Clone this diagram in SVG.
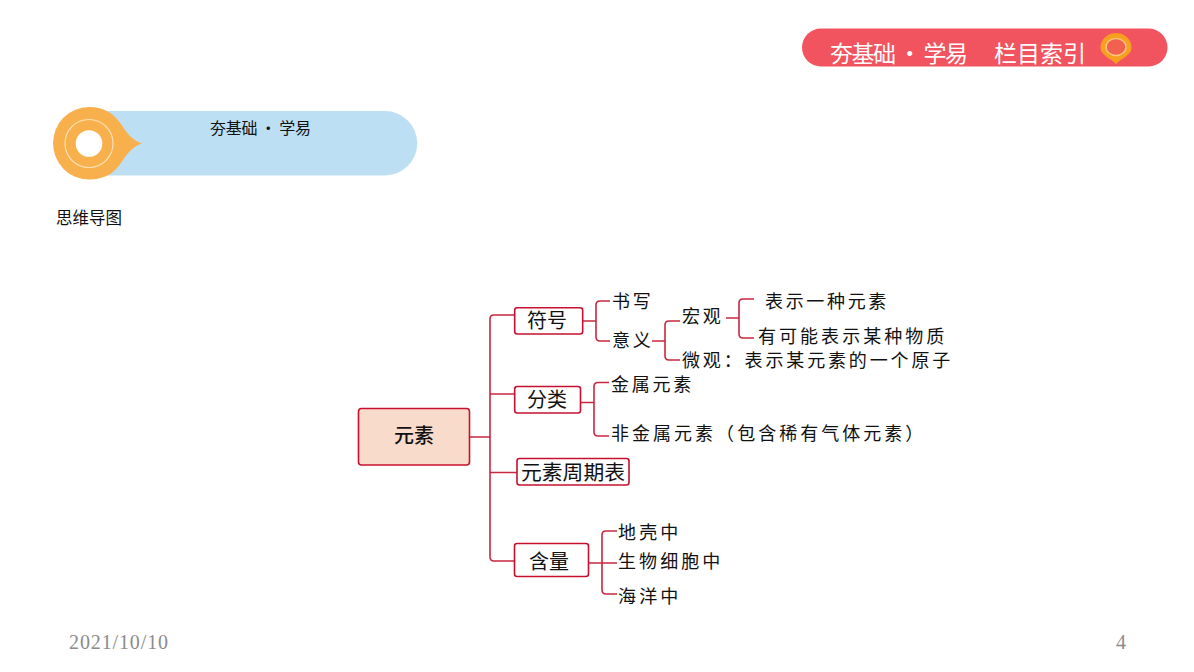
<svg xmlns="http://www.w3.org/2000/svg" width="1194" height="672" viewBox="0 0 1194 672">
<style>
text{font-family:"Noto Sans CJK SC","Liberation Sans",sans-serif;fill:#111}
.box{fill:#fff;stroke:#c8102e;stroke-width:1.6}
.c{fill:none;stroke:#c8283f;stroke-width:1.6}
.l{font-size:18px;letter-spacing:2.7px}
.b{font-size:20px;text-anchor:middle}
.f{font-family:"Liberation Serif",serif;font-size:20px;fill:#8b8b8b}
</style>
<rect width="1194" height="672" fill="#fff"/>
<g id="banner">
<path d="M821 28.5H1148.500A19 19 0 0 1 1167.500 47.500A19 19 0 0 1 1148.500 66.500H821A19 19 0 0 1 802 47.500A19 19 0 0 1 821 28.500Z" fill="#f2545f"/>
<text x="830" y="62" font-size="23" style="fill:#fff" textLength="138">夯基础 · 学易</text>
<text x="994" y="62" font-size="23" style="fill:#fff" textLength="92">栏目索引</text>
<path d="M1116 64C1111 58 1100.500 56 1100.500 47.500A15.500 14.500 0 0 1 1131.500 47.500C1131.500 56 1121 58 1116 64Z" fill="#f79f1f"/>
<ellipse cx="1116" cy="47" rx="10" ry="8.500" fill="#f2604f" stroke="#fbc77f" stroke-width="1.500"/>
</g>
<g id="section">
<path d="M88 111H385A32.250 32.250 0 0 1 385 175.500H88Z" fill="#bcdff4"/>
<path d="M89 107C105 107 115 114 123 127C128 135 134 141 142 143.500C134 146 128 152 123 160C115 173 105 179.500 89 179.500A36 36.250 0 0 1 89 107Z" fill="#f8b04c"/>
<circle cx="89" cy="143.500" r="24" fill="none" stroke="#fde0b5" stroke-width="1.200"/>
<circle cx="89" cy="143.500" r="13.300" fill="#fff"/>
<text x="210" y="134" font-size="16" textLength="101">夯基础 · 学易</text>
</g>
<text id="subtitle" x="56" y="224" font-size="16.500">思维导图</text>
<g id="connectors">
<path class="c" d="M470 437H490M514 315H494Q490 315 490 319V557Q490 561 494 561H514M490 394H514M490 472.500H517"/>
<path class="c" d="M583 321H596M610 301H600Q596 301 596 305V337Q596 341 600 341H610"/>
<path class="c" d="M652 341H665M680 321H669Q665 321 665 325V356Q665 360 669 360H680"/>
<path class="c" d="M726 318H739M754 299H743Q739 299 739 303V334Q739 338 743 338H754"/>
<path class="c" d="M581 402.500H594M609 382.500H598Q594 382.500 594 386.500V432Q594 436 598 436H609"/>
<path class="c" d="M589 563H602M617 531H606Q602 531 602 535V590Q602 594 606 594H617M602 563H617"/>
</g>
<g id="root"><rect x="358.500" y="408.500" width="111" height="56.500" rx="3" fill="#f8dbcb" stroke="#c8102e" stroke-width="1.600"/><text x="414" y="443" font-size="20" font-weight="500" text-anchor="middle">元素</text></g>
<g id="n-fuhao"><rect class="box" x="514.700" y="307.700" width="68" height="26.300" rx="2.500"/><text class="b" x="547" y="328">符号</text></g>
<g id="n-fenlei"><rect class="box" x="514.700" y="386.500" width="65.800" height="26.500" rx="2.500"/><text class="b" x="547" y="407">分类</text></g>
<g id="n-zhouqi"><rect class="box" x="517" y="458.500" width="112" height="26.500" rx="2.500"/><text class="b" x="573" y="480" style="font-size:20.800px">元素周期表</text></g>
<g id="n-hanliang"><rect class="box" x="514.500" y="543.500" width="74" height="33" rx="2.500"/><text class="b" x="549" y="569">含量</text></g>
<g id="leaf-shuxie"><text class="l" x="612" y="308">书写</text></g>
<g id="leaf-yiyi"><text class="l" x="612" y="347">意义</text></g>
<g id="leaf-hongguan"><text class="l" x="682" y="323">宏观</text></g>
<g id="leaf-weiguan"><text class="l" x="682" y="367" textLength="271">微观：表示某元素的一个原子</text></g>
<g id="leaf-biaoshi"><text class="l" x="765" y="308" textLength="124">表示一种元素</text></g>
<g id="leaf-keneng"><text class="l" x="758" y="343" textLength="189">有可能表示某种物质</text></g>
<g id="leaf-jinshu"><text class="l" x="611" y="391" textLength="83">金属元素</text></g>
<g id="leaf-feijinshu"><text class="l" x="611" y="440" textLength="315">非金属元素（包含稀有气体元素）</text></g>
<g id="leaf-dike"><text class="l" x="618" y="539" textLength="63">地壳中</text></g>
<g id="leaf-shengwu"><text class="l" x="618" y="568" textLength="105">生物细胞中</text></g>
<g id="leaf-haiyang"><text class="l" x="618" y="603" textLength="63">海洋中</text></g>
<text id="date" class="f" x="69" y="649" textLength="99">2021/10/10</text>
<text id="page" class="f" x="1116" y="649">4</text>
</svg>
